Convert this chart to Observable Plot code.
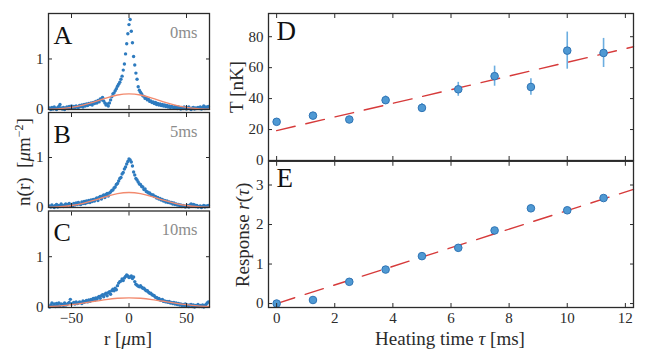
<!DOCTYPE html>
<html><head><meta charset="utf-8">
<script src="https://cdn.jsdelivr.net/npm/d3@7"></script>
<script src="https://cdn.jsdelivr.net/npm/@observablehq/plot@0.6"></script>
<style>
body{margin:0;background:#fff;}
#chart{position:relative;width:646px;height:350px;font-family:"Liberation Serif","DejaVu Serif",serif;color:#2b2b2b;overflow:hidden;}
#chart svg{position:absolute;overflow:visible;}
#chart svg text{font-family:"Liberation Serif","DejaVu Serif",serif;}
.lab{position:absolute;white-space:nowrap;font-size:19px;line-height:1;}
.rot{transform:translate(-50%,-50%) rotate(-90deg);}
.ctr{transform:translate(-50%,-50%);}
</style></head><body><div id="chart"></div><script>
// ---------- data ----------
const rGrid = [-69,-68,-67,-66,-65,-64,-63,-62,-61,-60,-59,-58,-57,-56,-55,-54,-53,-52,-51,-50,
-49,-48,-47,-46,-45,-44,-43,-42,-41,-40,-39,-38,-37,-36,-35,-34,-33,-32,-31,-30,
-29,-28,-27,-26,-25,-24,-23,-22,-21,-20,-19,-18,-17,-16,-15,-14,-13,-12,-11,-10,
-9,-8,-7,-6,-5,-4,-3,-2,-1,0,1,2,3,4,5,6,7,8,9,10,
11,12,13,14,15,16,17,18,19,20,21,22,23,24,25,26,27,28,29,30,
31,32,33,34,35,36,37,38,39,40,41,42,43,44,45,46,47,48,49,50,
51,52,53,54,55,56,57,58,59,60,61,62,63,64,65,66,67,68,69];

const densityA = [0.03,0.00,0.04,0.01,0.05,0.02,0.00,0.04,0.06,0.10,
0.03,0.01,0.04,0.00,0.03,0.05,0.02,0.06,0.03,0.07,
0.04,0.06,0.03,0.07,0.05,0.04,0.08,0.06,0.09,0.05,
0.10,0.07,0.11,0.08,0.12,0.10,0.13,0.09,0.14,0.12,
0.16,0.13,0.18,0.15,0.21,0.19,0.24,0.17,0.13,0.09,
0.11,0.07,0.13,0.19,0.25,0.31,0.33,0.37,0.41,0.46,
0.50,0.54,0.60,0.66,0.78,0.90,1.10,1.30,1.50,1.68,
1.78,1.55,1.32,1.05,0.88,0.72,0.60,0.45,0.38,0.34,
0.31,0.27,0.26,0.22,0.23,0.19,0.20,0.16,0.17,0.14,
0.15,0.12,0.14,0.10,0.12,0.09,0.11,0.08,0.10,0.07,
0.09,0.06,0.08,0.05,0.07,0.04,0.06,0.05,0.03,0.06,
0.04,0.02,0.05,0.03,0.01,0.04,0.02,0.05,0.03,0.01,
0.03,0.05,0.02,0.00,0.03,0.04,0.01,0.03,0.02,0.04,
0.02,0.05,0.01,0.04,0.07,0.02,0.05,0.03,0.06];

const densityB = [0.03,0.01,0.05,0.02,0.00,0.04,0.06,0.01,0.04,0.02,
0.07,0.04,0.02,0.05,0.07,0.03,0.06,0.08,0.04,0.06,
0.03,0.08,0.05,0.09,0.06,0.10,0.07,0.06,0.11,0.08,
0.12,0.08,0.13,0.10,0.14,0.10,0.15,0.12,0.16,0.13,
0.17,0.19,0.14,0.20,0.22,0.17,0.23,0.25,0.20,0.26,
0.28,0.23,0.29,0.31,0.34,0.35,0.39,0.41,0.46,0.48,
0.53,0.58,0.60,0.67,0.70,0.77,0.81,0.87,0.92,0.97,
0.95,0.91,0.83,0.71,0.65,0.58,0.55,0.51,0.47,0.46,
0.42,0.41,0.36,0.37,0.32,0.31,0.29,0.29,0.26,0.25,
0.25,0.22,0.22,0.19,0.20,0.17,0.18,0.15,0.16,0.13,
0.14,0.11,0.13,0.10,0.11,0.09,0.10,0.07,0.09,0.06,
0.07,0.05,0.06,0.04,0.05,0.02,0.04,0.03,0.01,0.03,
0.04,0.01,0.05,0.07,0.03,0.06,0.05,0.02,0.04,0.01,
0.02,0.03,0.00,0.02,0.04,0.01,0.03,0.02,0.04];

const densityC = [0.01,0.05,0.09,0.03,0.07,0.02,0.08,0.04,0.09,0.03,
0.07,0.06,0.04,0.09,0.05,0.06,0.08,0.10,0.16,0.07,
0.08,0.10,0.07,0.11,0.08,0.09,0.11,0.10,0.08,0.13,
0.10,0.12,0.14,0.11,0.15,0.12,0.16,0.14,0.18,0.14,
0.19,0.16,0.20,0.22,0.18,0.23,0.25,0.21,0.26,0.28,
0.23,0.29,0.31,0.26,0.33,0.36,0.33,0.38,0.35,0.43,
0.48,0.51,0.52,0.56,0.53,0.58,0.61,0.64,0.62,0.59,
0.60,0.62,0.57,0.60,0.51,0.46,0.44,0.42,0.41,0.43,
0.40,0.38,0.38,0.35,0.33,0.33,0.30,0.28,0.28,0.25,
0.24,0.23,0.20,0.20,0.17,0.18,0.15,0.14,0.16,0.12,
0.13,0.11,0.12,0.10,0.12,0.09,0.10,0.08,0.10,0.07,
0.09,0.06,0.08,0.05,0.07,0.04,0.06,0.04,0.07,0.03,
0.05,0.02,0.05,0.06,0.02,0.05,0.01,0.04,0.03,0.06,
0.02,0.04,0.02,0.05,0.01,0.04,0.06,0.09,0.11];

// Gaussian fit curves, read at sample radii
const fitR    = [-70,-60,-50,-40,-30,-20,-10,0,10,20,30,40,50,60,70];
const fitA    = [0.006,0.017,0.042,0.086,0.151,0.225,0.286,0.31,0.286,0.225,0.151,0.086,0.042,0.017,0.006];
const fitB    = [0.006,0.017,0.041,0.083,0.146,0.218,0.277,0.30,0.277,0.218,0.146,0.083,0.041,0.017,0.006];
const fitC    = [0.017,0.033,0.056,0.087,0.122,0.156,0.181,0.19,0.181,0.156,0.122,0.087,0.056,0.033,0.017];

const panelLetters = ["A","B","C","D","E"];
const timeLabels = ["0ms","5ms","10ms"];
const rTicks = [-50,0,50];
const nTicks = [0,1];

const heatTime  = [0,1.25,2.5,3.75,5,6.25,7.5,8.75,10,11.25];
const temperature = [25,29,26.5,39,34,46,54.5,47.5,71,69.5];
const temperatureErr = [1,2,1.2,2.7,2.8,4.5,6.5,5.4,12,9.4];
const response = [0,0.09,0.55,0.86,1.2,1.41,1.85,2.41,2.36,2.67];
const fitTau  = [0,12.28];
const fitTemp = [19.3,73.5];
const fitResp = [0,2.89];
const tauTicks = [0,2,4,6,8,10,12];
const tempTicks = [0,20,40,60,80];
const respTicks = [0,1,2,3];

// ---------- style ----------
const FONT = '"Liberation Serif","DejaVu Serif",serif';
const INK = "#2b2b2b";
const DOT = "#2e7bbf";
const FITO = "#f28a6e";
const RED = "#d63a3a";
const fmt = d => (d < 0 ? "\u2212" + (-d) : String(d));
const chart = document.getElementById("chart");

function boxAxes(xTicks, yTicks, showX, showY) {
  const m = [
    Plot.axisX({anchor:"bottom", ticks:xTicks, tickSize:-4, tickFormat:()=>"", label:null, stroke:INK}),
    Plot.axisX({anchor:"top", ticks:xTicks, tickSize:-4, tickFormat:()=>"", label:null, stroke:INK}),
    Plot.axisY({anchor:"left", ticks:yTicks, tickSize:-4, tickFormat:()=>"", label:null, stroke:INK}),
    Plot.axisY({anchor:"right", ticks:yTicks, tickSize:-4, tickFormat:()=>"", label:null, stroke:INK}),
    Plot.frame({stroke:INK, strokeWidth:1.3})
  ];
  if (showX) m.push(Plot.axisX({anchor:"bottom", ticks:xTicks, tickSize:0, tickPadding:5, tickFormat:fmt, label:null, fill:INK, fontSize:15, fontFamily:FONT}));
  if (showY) m.push(Plot.axisY({anchor:"left", ticks:yTicks, tickSize:0, tickPadding:5, tickFormat:fmt, label:null, fill:INK, fontSize:15, fontFamily:FONT}));
  return m;
}

function place(svg, left, top) {
  svg.style.left = left + "px";
  svg.style.top = top + "px";
  chart.appendChild(svg);
}

function densityPanel(vals, fitVals, letter, tlabel, top, height, mt, mb, showX) {
  const pts = rGrid.map((r, i) => ({r, n: vals[i]}));
  const fit = fitR.map((r, i) => ({r, n: fitVals[i]}));
  const svg = Plot.plot({
    width: 220, height, marginLeft: 48, marginRight: 11, marginTop: mt, marginBottom: mb,
    x: {domain: [-70, 70]},
    y: {domain: [0, 1.9]},
    style: {fontFamily: FONT, fontSize: "15px", color: INK, background: "transparent"},
    marks: [
      Plot.dot(pts, {x: "r", y: "n", r: 1.7, fill: DOT, stroke: "none"}),
      Plot.line(fit, {x: "r", y: "n", stroke: FITO, strokeWidth: 1.4, curve: "natural"}),
      Plot.text([letter], {text: d => d, frameAnchor: "top-left", textAnchor: "start", lineAnchor: "top", dx: 5, dy: 12, fontSize: 26, fill: "#111", fontFamily: FONT}),
      Plot.text([tlabel], {text: d => d, frameAnchor: "top-right", textAnchor: "end", lineAnchor: "top", dx: -12, dy: 12.5, fontSize: 16.5, fill: "#8c8c8c", fontFamily: FONT}),
      ...boxAxes(rTicks, nTicks, showX, true)
    ]
  });
  place(svg, 0, top);
}

densityPanel(densityA, fitA, panelLetters[0], timeLabels[0], 0, 112, 13, 3, false);
densityPanel(densityB, fitB, panelLetters[1], timeLabels[1], 109, 101, 3, 3, false);
densityPanel(densityC, fitC, panelLetters[2], timeLabels[2], 207, 143, 3.5, 43, true);

// Panel D
const tempRows = heatTime.map((t, i) => ({t, T: temperature[i], e: temperatureErr[i]}));
const tempFit = fitTau.map((t, i) => ({t, T: fitTemp[i]}));
const svgD = Plot.plot({
  width: 446, height: 162, marginLeft: 68, marginRight: 13, marginTop: 13, marginBottom: 2,
  x: {domain: [-0.28, 12.28]},
  y: {domain: [0, 95]},
  style: {fontFamily: FONT, fontSize: "15px", color: INK, background: "transparent"},
  marks: [
    Plot.line(tempFit, {x: "t", y: "T", stroke: RED, strokeWidth: 1.4, strokeDasharray: "19,11"}),
    Plot.ruleX(tempRows, {x: "t", y1: d => d.T - d.e, y2: d => d.T + d.e, stroke: "#6caee0", strokeWidth: 1.6}),
    Plot.dot(tempRows, {x: "t", y: "T", r: 3.8, fill: "#4f99d3", stroke: "#2f74b5", strokeWidth: 1}),
    Plot.text([panelLetters[3]], {text: d => d, frameAnchor: "top-left", textAnchor: "start", lineAnchor: "top", dx: 8, dy: 7.5, fontSize: 27, fill: "#111", fontFamily: FONT}),
    ...boxAxes(tauTicks, tempTicks, false, true)
  ]
});
place(svgD, 200, 0);

// Panel E
const respRows = heatTime.map((t, i) => ({t, v: response[i]}));
const respFit = fitTau.map((t, i) => ({t, v: fitResp[i]}));
const svgE = Plot.plot({
  width: 446, height: 190, marginLeft: 68, marginRight: 13, marginTop: 0.8, marginBottom: 43,
  x: {domain: [-0.28, 12.28]},
  y: {domain: [-0.1, 3.6]},
  style: {fontFamily: FONT, fontSize: "15px", color: INK, background: "transparent"},
  marks: [
    Plot.line(respFit, {x: "t", y: "v", stroke: RED, strokeWidth: 1.4, strokeDasharray: "19,11"}),
    Plot.dot(respRows, {x: "t", y: "v", r: 3.8, fill: "#4f99d3", stroke: "#2f74b5", strokeWidth: 1}),
    Plot.text([panelLetters[4]], {text: d => d, frameAnchor: "top-left", textAnchor: "start", lineAnchor: "top", dx: 8, dy: 7, fontSize: 27, fill: "#111", fontFamily: FONT}),
    ...boxAxes(tauTicks, respTicks, true, true)
  ]
});
place(svgE, 200, 160);

// Axis titles
function addLabel(html, x, y, cls) {
  const d = document.createElement("div");
  d.className = "lab " + cls;
  d.style.left = x + "px";
  d.style.top = y + "px";
  d.innerHTML = html;
  chart.appendChild(d);
}
addLabel('n(r)&nbsp; [<i>μ</i>m<sup style="font-size:12px">\u22122</sup>]', 23, 162, "rot");
addLabel('r [<i>μ</i>m]', 128, 338, "ctr");
addLabel('T [nK]', 236, 87, "rot");
addLabel('Response <i>r</i>(<i>τ</i>)', 242, 235, "rot");
addLabel('Heating time <i>τ</i> [ms]', 450, 338, "ctr");
</script></body></html>
